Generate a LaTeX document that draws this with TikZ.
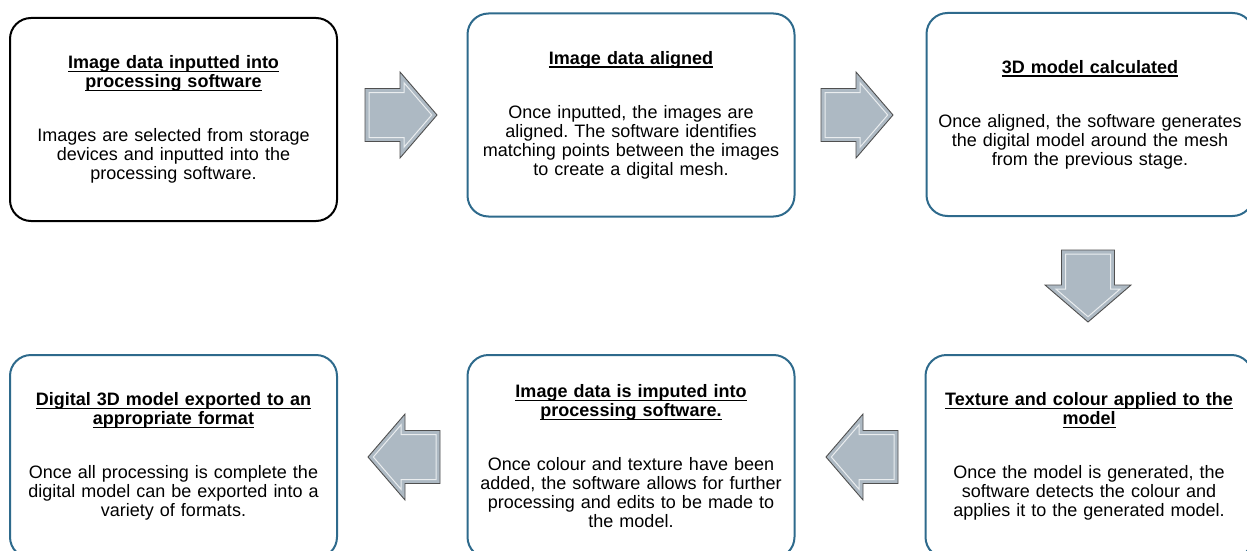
\documentclass[tikz,border=0pt]{standalone}
\usepackage{fontspec}
\setmainfont{Liberation Sans}
\frenchspacing
\definecolor{boxblue}{RGB}{46,106,140}
\definecolor{arrowfill}{RGB}{173,185,195}
\definecolor{arrowline}{RGB}{80,80,80}
\newcommand\hul[1]{\setbox0\hbox{#1}\rlap{\vrule height -1.9pt depth 3.5pt width \wd0}\box0}
\newcommand\blockarrow[3]{%
  \begin{scope}[shift={(#1,#2)},rotate=#3]
    \draw[arrowbody] (-72,26.5) -- (-37,26.5) -- (-37,43) -- (0,0) -- (-37,-43) -- (-37,-26.5) -- (-72,-26.5) -- cycle;
    \draw[arrowshine] (-68,22.5) -- (-33,22.5) -- (-33,32.2) -- (-5.3,0) -- (-33,-32.2) -- (-33,-22.5) -- (-68,-22.5) -- cycle;
  \end{scope}}
\begin{document}
\begin{tikzpicture}[x=1pt,y=-1pt,
  stagebox/.style={draw=boxblue, line width=2pt, rounded corners=21pt, fill=white,
    minimum width=327pt, minimum height=203pt, inner sep=0pt, text width=322pt, align=center,
    font=\fontsize{18pt}{19pt}\selectfont},
  arrowbody/.style={fill=arrowfill, draw=arrowline, line width=0.9pt, line join=miter},
  arrowshine/.style={draw=white, line width=1pt, opacity=0.75, line join=miter}]
\useasboundingbox (0,0) rectangle (1247,551);
\newcommand\gap{\\[35pt]}
\node[stagebox, draw=black] (b1) at (173.5,119.5)
  {\textbf{\hul{Image data inputted into}}\\\textbf{\hul{processing software}}\gap
   Images are selected from storage\\devices and inputted into the\\processing software.};
\node[stagebox] (b2) at (631,115)
  {\textbf{\hul{Image data aligned}}\gap
   Once inputted, the images are\\aligned. The software identifies\\matching points between the images\\to create a digital mesh.};
\node[stagebox] (b3) at (1090,114.5)
  {\textbf{\hul{3D model calculated}}\gap
   Once aligned, the software generates\\the digital model around the mesh\\from the previous stage.};
\node[stagebox] (b4) at (1089,456.5)
  {\textbf{\hul{Texture and colour applied to the}}\\\textbf{\hul{model}}\gap
   Once the model is generated, the\\software detects the colour and\\applies it to the generated model.};
\node[stagebox] (b5) at (631,456.5)
  {\textbf{\hul{Image data is imputed into}}\\\textbf{\hul{processing software.}}\gap
   Once colour and texture have been\\added, the software allows for further\\processing and edits to be made to\\the model.};
\node[stagebox] (b6) at (173.5,456.5)
  {\textbf{\hul{Digital 3D model exported to an}}\\\textbf{\hul{appropriate format}}\gap
   Once all processing is complete the\\digital model can be exported into a\\variety of formats.};
\blockarrow{437}{115}{0}
\blockarrow{893}{115}{0}
\blockarrow{1088}{322}{-90}
\blockarrow{826}{457}{180}
\blockarrow{368}{457}{180}
\end{tikzpicture}
\end{document}
